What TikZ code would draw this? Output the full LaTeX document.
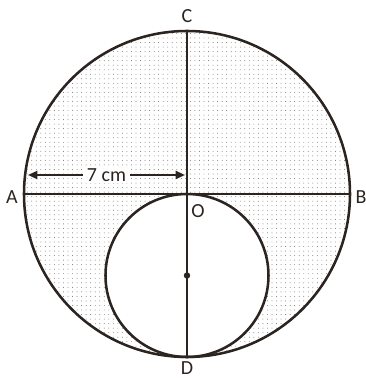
\documentclass[tikz,border=0pt]{standalone}
\usepackage{fontspec}
\setmainfont{Carlito}
\usepackage{tikz}
\usetikzlibrary{patterns.meta,arrows.meta,positioning}
\definecolor{linecol}{RGB}{43,36,32}
\definecolor{dotcol}{RGB}{110,110,110}

\begin{document}
\begin{tikzpicture}[x=0.75pt, y=0.75pt,
  rim/.style={draw=linecol, line width=1.9pt},
  axis/.style={draw=linecol, line width=1.6pt},
  dimarrow/.style={linecol, line width=1.5pt, {Triangle[length=7pt,width=6pt]}-{Triangle[length=7pt,width=6pt]}},
  lbl/.style={font=\fontsize{15}{18}\selectfont, text=linecol, inner sep=1pt},
]
  \useasboundingbox (-187,-184) rectangle (179,194);

  % Points
  \coordinate (O) at (0,0);
  \coordinate (A) at (-163,0);
  \coordinate (B) at (163,0);
  \coordinate (C) at (0,163);
  \coordinate (D) at (0,-163);
  \coordinate (M) at (0,-81.5);

  % Dotted region between the circles
  \path[pattern={Dots[distance=3.4pt, radius=0.35pt]}, pattern color=dotcol, even odd rule]
    (O) circle[radius=163] (M) circle[radius=81.5];

  % Circles
  \draw[rim] (O) circle[radius=163];
  \draw[rim] (M) circle[radius=81.5];

  % Diameters
  \draw[axis] (A) -- (B);
  \draw[axis] (C) -- (D);
  \fill[linecol] (M) circle[radius=2.4pt];

  % Radius measure
  \coordinate (arrL) at (-159,19);
  \coordinate (arrR) at (-2,19);
  \draw[dimarrow] (arrL) -- (arrR)
    node[lbl, midway, fill=white, inner xsep=3pt] (len) {7 cm};

  % Labels
  \node[lbl] (lblA) at (-175,-3) {A};
  \node[lbl] (lblB) at (174,-3) {B};
  \node[lbl] (lblC) at (0,178) {C};
  \node[lbl, inner sep=0pt] (lblD) at (0,-174) {D};
  \node[lbl] (lblO) at (11,-17) {O};
\end{tikzpicture}
\end{document}
